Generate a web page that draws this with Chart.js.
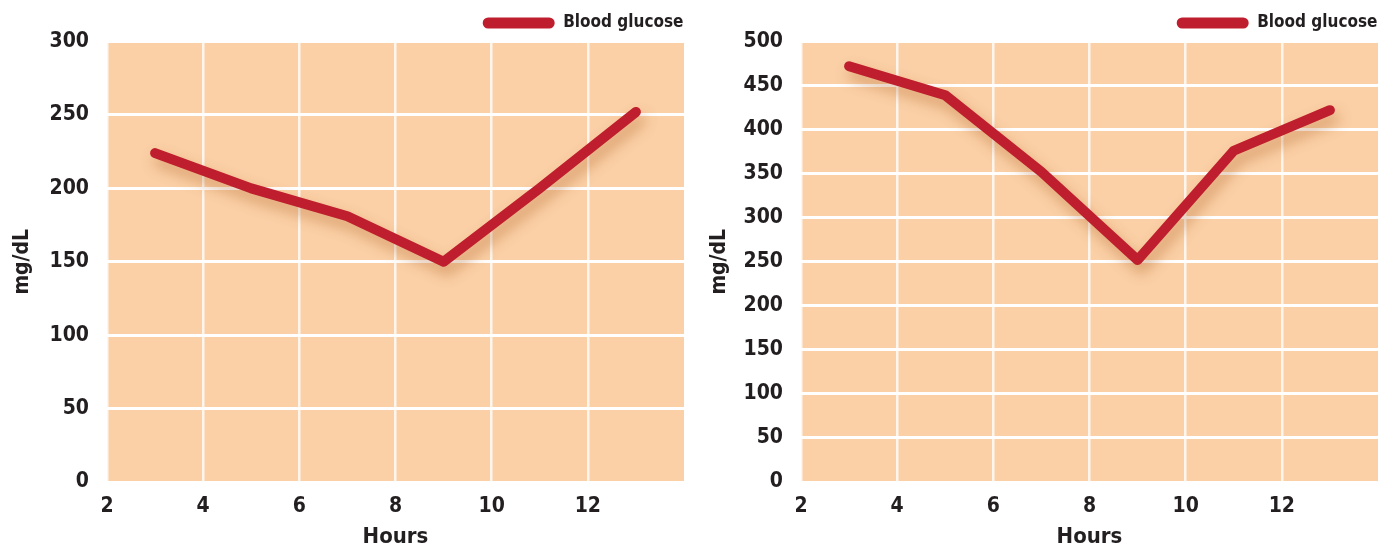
<!DOCTYPE html>
<html>
<head>
<meta charset="utf-8">
<script src="https://cdn.jsdelivr.net/npm/chart.js@4/dist/chart.umd.min.js"></script>
<style>
  html, body { margin: 0; padding: 0; background: #fff; }
  .wrap { position: absolute; top: 0; width: 697px; height: 550px; }
  #left { left: 0; }
  #right { left: 697px; }
</style>
</head>
<body>
<div class="wrap" id="left"><canvas id="chartLeft"></canvas></div>
<div class="wrap" id="right"><canvas id="chartRight"></canvas></div>
<script>
const hours = [3, 5, 7, 9, 11, 13];
const glucoseLeft = [224, 200, 181, 150, 200, 252];
const glucoseRight = [472, 439, 352, 252, 376, 422];
const xTicks = [2, 4, 6, 8, 10, 12];

const FONT = "'Liberation Sans Narrow', 'DejaVu Sans Condensed', sans-serif";
const TEXT = '#231f20';
const RED = '#be1e2d';

// orange plot background, and legend pushed to the plot's right edge
const plotBg = {
  id: 'plotBg',
  beforeDraw(chart) {
    const { ctx, chartArea: a } = chart;
    ctx.save();
    ctx.fillStyle = '#fbd0a6';
    ctx.fillRect(a.left, a.top, a.right - a.left, a.bottom - a.top);
    ctx.restore();
    if (chart.legend) chart.legend.right = a.right + 14;
  }
};

// soft drop shadow under the line
const lineShadow = {
  id: 'lineShadow',
  beforeDatasetDraw(chart) {
    const ctx = chart.ctx;
    ctx.save();
    ctx.shadowColor = 'rgba(170, 90, 30, 0.45)';
    ctx.shadowBlur = 14;
    ctx.shadowOffsetX = 4;
    ctx.shadowOffsetY = 8;
  },
  afterDatasetDraw(chart) {
    chart.ctx.restore();
  }
};

function makeChart(id, values, yMax, yWidth, rightPad) {
  const ctx = document.getElementById(id).getContext('2d');
  return new Chart(ctx, {
    type: 'line',
    data: {
      datasets: [{
        label: 'Blood glucose',
        data: hours.map((h, i) => ({ x: h, y: values[i] })),
        borderColor: RED,
        backgroundColor: RED,
        borderWidth: 10,
        borderCapStyle: 'round',
        borderJoinStyle: 'round',
        pointRadius: 0,
        tension: 0
      }]
    },
    options: {
      responsive: true,
      maintainAspectRatio: false,
      animation: false,
      layout: { padding: { top: 0, right: rightPad, bottom: 0, left: 0 } },
      plugins: {
        legend: {
          display: true,
          position: 'top',
          align: 'end',
          labels: {
            color: TEXT,
            font: { family: FONT, size: 17, weight: 'bold' },
            boxWidth: 72,
            boxHeight: 11,
            useBorderRadius: true,
            borderRadius: 5.5,
            padding: 14.5,
            generateLabels: (chart) => {
              const items = Chart.defaults.plugins.legend.labels.generateLabels(chart);
              items.forEach(it => { it.lineWidth = 0; it.strokeStyle = RED; });
              return items;
            }
          }
        },
        tooltip: { enabled: false }
      },
      scales: {
        x: {
          type: 'linear',
          min: 2,
          max: 14,
          afterBuildTicks: (axis) => {
            axis.ticks = xTicks.map(v => ({ value: v }));
          },
          afterFit: (axis) => { axis.height = 68; },
          border: { display: false },
          grid: { color: 'rgba(255,255,255,0.8)', lineWidth: 2.5, drawTicks: false },
          ticks: {
            color: TEXT,
            padding: 12,
            font: { family: FONT, size: 21, weight: 'bold' }
          },
          title: {
            display: true,
            text: 'Hours',
            color: TEXT,
            padding: { top: 5, bottom: 0 },
            font: { family: FONT, size: 22, weight: 'bold' }
          }
        },
        y: {
          min: 0,
          max: yMax,
          afterFit: (axis) => { axis.width = yWidth; },
          border: { display: false },
          grid: { color: '#ffffff', lineWidth: 3, drawTicks: false },
          ticks: {
            stepSize: 50,
            color: TEXT,
            padding: 18,
            font: { family: FONT, size: 21, weight: 'bold' }
          },
          title: {
            display: true,
            text: 'mg/dL',
            color: TEXT,
            padding: { top: 10, bottom: 10 },
            font: { family: FONT, size: 21, weight: 'bold' }
          }
        }
      }
    },
    plugins: [plotBg, lineShadow]
  });
}

makeChart('chartLeft', glucoseLeft, 300, 107, 13);
makeChart('chartRight', glucoseRight, 500, 104, 16);
</script>
</body>
</html>
